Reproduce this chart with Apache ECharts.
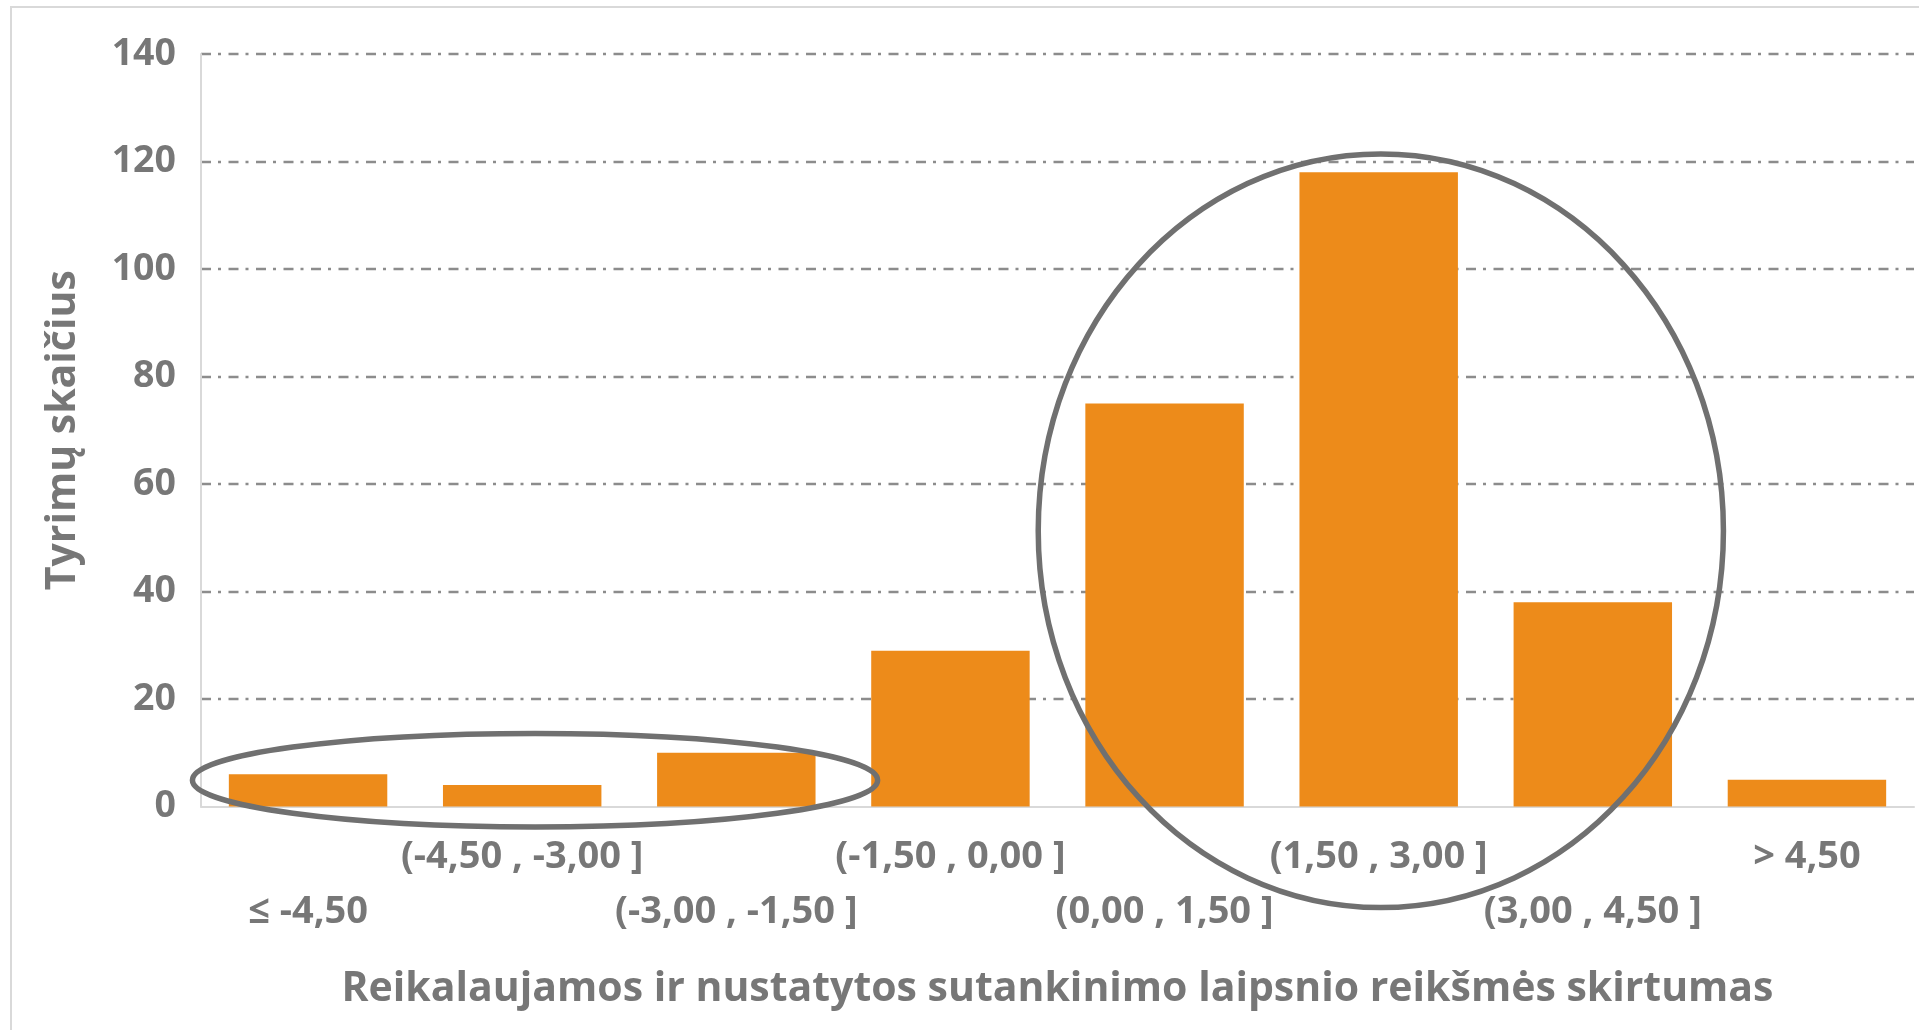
<!DOCTYPE html>
<html>
<head>
<meta charset="utf-8">
<script src="https://cdn.jsdelivr.net/npm/echarts@6/dist/echarts.min.js"></script>
<style>
  html, body { margin: 0; padding: 0; background: #ffffff; }
  #chart { width: 1919px; height: 1030px; }
</style>
</head>
<body>
<div id="chart"></div>
<script>
// Difference between required and measured degree of compaction (bins)
const categories = [
  '≤ -4,50',
  '(-4,50 , -3,00 ]',
  '(-3,00 , -1,50 ]',
  '(-1,50 , 0,00 ]',
  '(0,00 , 1,50 ]',
  '(1,50 , 3,00 ]',
  '(3,00 , 4,50 ]',
  '> 4,50'
];
// Number of tests in each bin
const counts = [6, 4, 10, 29, 75, 118, 38, 5];
// Value axis ticks
const yMin = 0;
const yMax = 140;
const yStep = 20;

const textGray = '#777777';
const fontFamily = '"Open Sans", Lato, sans-serif';

const chart = echarts.init(document.getElementById('chart'), null, { renderer: 'canvas' });

const option = {
  animation: false,
  backgroundColor: '#ffffff',
  grid: { left: 201, right: 5, top: 54, bottom: 223.5, containLabel: false },
  xAxis: {
    type: 'category',
    data: categories,
    name: 'Reikalaujamos ir nustatytos sutankinimo laipsnio reikšmės skirtumas',
    nameLocation: 'middle',
    nameGap: 162,
    nameTextStyle: { color: textGray, fontFamily, fontWeight: 'bold', fontSize: 41 },
    axisLine: { show: true, lineStyle: { color: '#d9d9d9', width: 2 } },
    axisTick: { show: false },
    axisLabel: {
      interval: 0,
      color: textGray,
      fontFamily,
      fontWeight: 'bold',
      fontSize: 38,
      lineHeight: 55,
      margin: 23,
      // staggered labels: even bins on the lower row
      formatter: (value, index) => (index % 2 === 0 ? '\n' + value : value)
    },
    splitLine: { show: false }
  },
  yAxis: {
    type: 'value',
    min: yMin,
    max: yMax,
    interval: yStep,
    name: 'Tyrimų skaičius',
    nameLocation: 'middle',
    nameGap: 117,
    nameTextStyle: { color: textGray, fontFamily, fontWeight: 'bold', fontSize: 41 },
    axisLine: { show: true, lineStyle: { color: '#d9d9d9', width: 2 } },
    axisTick: { show: false },
    axisLabel: {
      color: textGray,
      fontFamily,
      fontWeight: 'bold',
      fontSize: 37.5,
      margin: 25
    },
    splitLine: {
      show: true,
      showMinLine: false,
      lineStyle: { color: '#8c8c8c', width: 2.4, type: [10, 7, 3, 7.5] }
    }
  },
  series: [{
    type: 'bar',
    data: counts,
    barCategoryGap: '26%',
    itemStyle: { color: '#ED8B1A' },
    z: 2
  }]
};

chart.setOption(option);

// Highlight ellipses, given in axis units: center bin index, center value,
// half-width in bins, half-height in value units
const highlights = [
  { bin: 1.06, value: 4.9, halfBins: 1.60, halfValue: 8.7 },
  { bin: 5.01, value: 51.3, halfBins: 1.60, halfValue: 70.1 }
];

function drawOverlays() {
  const x0 = chart.convertToPixel({ xAxisIndex: 0 }, 0);
  const x1 = chart.convertToPixel({ xAxisIndex: 0 }, 1);
  const band = x1 - x0;
  const y0 = chart.convertToPixel({ yAxisIndex: 0 }, 0);
  const y1 = chart.convertToPixel({ yAxisIndex: 0 }, 1);
  const unit = y0 - y1;

  const elements = highlights.map(h => ({
    type: 'ellipse',
    silent: true,
    z: 10,
    shape: {
      cx: x0 + band * h.bin,
      cy: y0 - unit * h.value,
      rx: band * h.halfBins,
      ry: unit * h.halfValue
    },
    style: { fill: 'none', stroke: '#707070', lineWidth: 5.5 }
  }));

  // outer frame of the chart area
  elements.push({
    type: 'rect',
    silent: true,
    z: 0,
    shape: { x: 11, y: 7, width: 2000, height: 2000 },
    style: { fill: 'none', stroke: '#d9d9d9', lineWidth: 2 }
  });

  chart.setOption({ graphic: { elements } });
}

drawOverlays();
</script>
</body>
</html>
